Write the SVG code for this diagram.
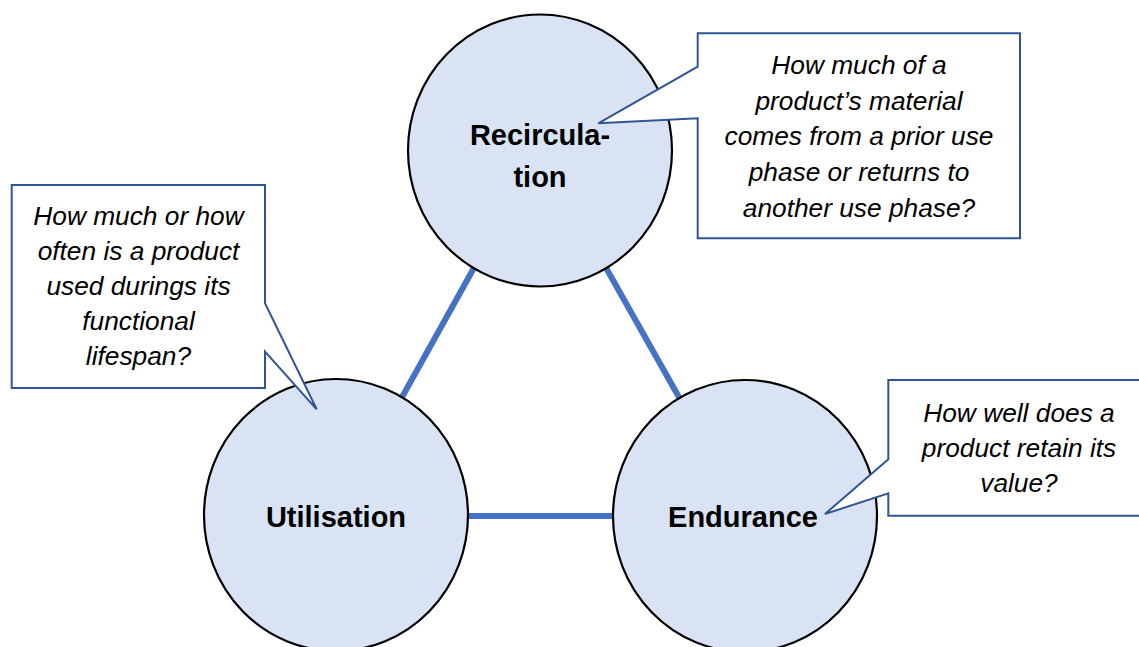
<svg xmlns="http://www.w3.org/2000/svg" width="1139" height="647" viewBox="0 0 1139 647">
<style>
.bg{fill:#ffffff}
.conn{stroke:#4472C4;stroke-width:6;fill:none}
.node{fill:#DAE3F3;stroke:#000000;stroke-width:2.2}
.label{font-family:"Liberation Sans",Arial,sans-serif;font-weight:bold;font-size:29px;fill:#000;text-anchor:middle}
.callout{fill:#ffffff;stroke:#2F5597;stroke-width:2}
.ctext{font-family:"Liberation Sans",Arial,sans-serif;font-style:italic;font-size:26.3px;fill:#000;text-anchor:middle}
</style>
<rect class="bg" x="0" y="0" width="1139" height="647"/>
<g id="connectors">
<line class="conn" x1="475" y1="266" x2="401" y2="399"/>
<line class="conn" x1="605" y1="266" x2="680" y2="399"/>
<line class="conn" x1="466" y1="516" x2="614" y2="516"/>
</g>
<g id="recirculation">
<ellipse class="node" cx="540" cy="150.5" rx="132" ry="136"/>
<text class="label" x="540" y="145">Recircula-</text>
<text class="label" x="540" y="187">tion</text>
</g>
<g id="utilisation">
<ellipse class="node" cx="336" cy="515" rx="132" ry="136"/>
<text class="label" x="336" y="527">Utilisation</text>
</g>
<g id="endurance">
<ellipse class="node" cx="745" cy="516" rx="132" ry="136"/>
<text class="label" x="743" y="527">Endurance</text>
</g>
<g id="callout-recirculation">
<path class="callout" d="M697.7,33.3 H1020 V238.3 H697.7 V118.3 L598.3,123.3 L697.7,66.7 Z"/>
<text class="ctext" x="859" y="74">How much of a</text>
<text class="ctext" x="859" y="109.7">product’s material</text>
<text class="ctext" x="859" y="145.4">comes from a prior use</text>
<text class="ctext" x="859" y="181">phase or returns to</text>
<text class="ctext" x="859" y="216.7">another use phase?</text>
</g>
<g id="callout-utilisation">
<path class="callout" d="M11.7,185 H265 V303.3 L316.7,409.3 L265,351.7 V388 H11.7 Z"/>
<text class="ctext" x="138.5" y="225">How much or how</text>
<text class="ctext" x="138.5" y="260">often is a product</text>
<text class="ctext" x="138.5" y="295">used durings its</text>
<text class="ctext" x="138.5" y="330">functional</text>
<text class="ctext" x="138.5" y="365">lifespan?</text>
</g>
<g id="callout-endurance">
<path class="callout" d="M888.3,380 H1150 V515.7 H888.3 V493.3 L825,514 L888.3,459.3 Z"/>
<text class="ctext" x="1019" y="421.7">How well does a</text>
<text class="ctext" x="1019" y="457">product retain its</text>
<text class="ctext" x="1019" y="491.7">value?</text>
</g>
</svg>
